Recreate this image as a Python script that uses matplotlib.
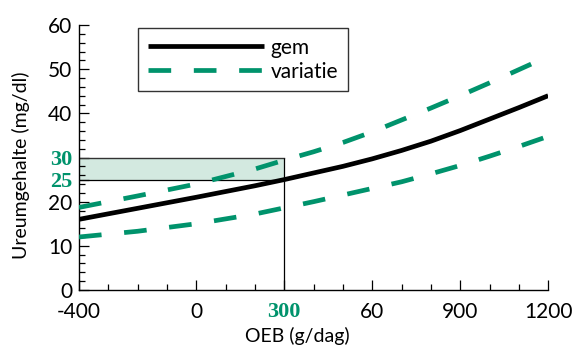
import matplotlib
matplotlib.use("Agg")
import matplotlib.pyplot as plt
from matplotlib.patches import Rectangle

# Data
oeb = [-400, -200, 0, 200, 300, 400, 500, 600, 700, 800, 900, 1000, 1100, 1200]
gem = [16.0, 18.5, 21.0, 23.6, 25.0, 26.5, 28.0, 29.7, 31.6, 33.7, 36.1, 38.7, 41.3, 44.0]
var_hoog = [18.7, 21.3, 24.0, 27.4, 29.4, 31.3, 33.4, 35.8, 38.5, 41.2, 44.0, 46.9, 49.9, 52.9]
var_laag = [12.0, 13.3, 15.0, 17.2, 18.6, 20.0, 21.5, 23.0, 24.5, 26.3, 28.2, 30.3, 32.5, 34.8]

band_low, band_high = 25, 30
x_marker = 300

x_ticks = [-400, 0, 300, 600, 900, 1200]
x_labels = ["-400", "0", "300", "60", "900", "1200"]
y_ticks = [0, 10, 20, 25, 30, 40, 50, 60]
y_labels = ["0", "10", "20", "25", "30", "40", "50", "60"]

green = "#00936c"
font = "Lato"

fig = plt.figure(figsize=(5.74, 3.48), dpi=100)
ax = fig.add_axes([0.1376, 0.1667, 0.955 - 0.1376, 0.928 - 0.1667])

ax.add_patch(Rectangle((-400, band_low), x_marker + 400, band_high - band_low,
                       facecolor="#d3e9e0", edgecolor="none", zorder=1))
ax.plot([-400, x_marker], [band_high, band_high], color="#333333", lw=1.0, zorder=2)
ax.plot([-400, x_marker], [band_low, band_low], color="black", lw=0.9, zorder=2)
ax.vlines(x_marker, 0, band_high, color="black", lw=0.9, zorder=2)

ax.plot(oeb, gem, color="black", lw=3.4, label="gem", zorder=3, solid_capstyle="butt")
ax.plot(oeb, var_hoog, color=green, lw=3.4, dashes=(4.8, 4.8), label="variatie", zorder=3)
ax.plot(oeb, var_laag, color=green, lw=3.4, dashes=(4.8, 4.8), zorder=3)

ax.set_xlim(-400, 1200)
ax.set_ylim(0, 60)
for s in ["top", "right"]:
    ax.spines[s].set_visible(False)
for s in ["left", "bottom"]:
    ax.spines[s].set_linewidth(1.0)

ax.set_xticks(x_ticks)
ax.set_xticklabels(x_labels)
ax.set_yticks(y_ticks)
ax.set_yticklabels(y_labels)
ax.set_xticks(range(-400, 1201, 100), minor=True)
ax.set_yticks(range(0, 61, 2), minor=True)
ax.tick_params(which="major", direction="in", length=7, width=0.9, labelsize=15)
ax.tick_params(axis="x", which="major", pad=9)
ax.tick_params(axis="y", which="major", pad=5)
ax.tick_params(which="minor", direction="in", length=4, width=0.9)

for lbl in ax.get_xticklabels() + ax.get_yticklabels():
    lbl.set_fontfamily(font)
for lbl in ax.get_xticklabels():
    if lbl.get_text() == "300":
        lbl.set_color(green); lbl.set_fontweight("bold"); lbl.set_fontfamily("Liberation Serif")
        lbl.set_fontsize(16)
for lbl in ax.get_yticklabels():
    if lbl.get_text() in ("25", "30"):
        lbl.set_color(green); lbl.set_fontweight("bold"); lbl.set_fontfamily("Liberation Serif")
        lbl.set_fontsize(16)

ax.set_xlabel("OEB (g/dag)", fontsize=14, fontfamily=font)
ax.set_ylabel("Ureumgehalte (mg/dl)", fontsize=14, fontfamily=font)
ax.xaxis.set_label_coords(0.465, -0.14)
ax.yaxis.set_label_coords(-0.105, 0.47)

leg = ax.legend(loc="upper left", bbox_to_anchor=(0.12, 1.0), frameon=True, fancybox=False,
                prop={"family": font, "size": 15}, handlelength=5.6, handletextpad=0.3,
                borderpad=0.45, labelspacing=0.2, borderaxespad=0.15)
leg.get_frame().set_edgecolor("black")
leg.get_frame().set_linewidth(1.0)

fig.savefig("out.png", dpi=100)
